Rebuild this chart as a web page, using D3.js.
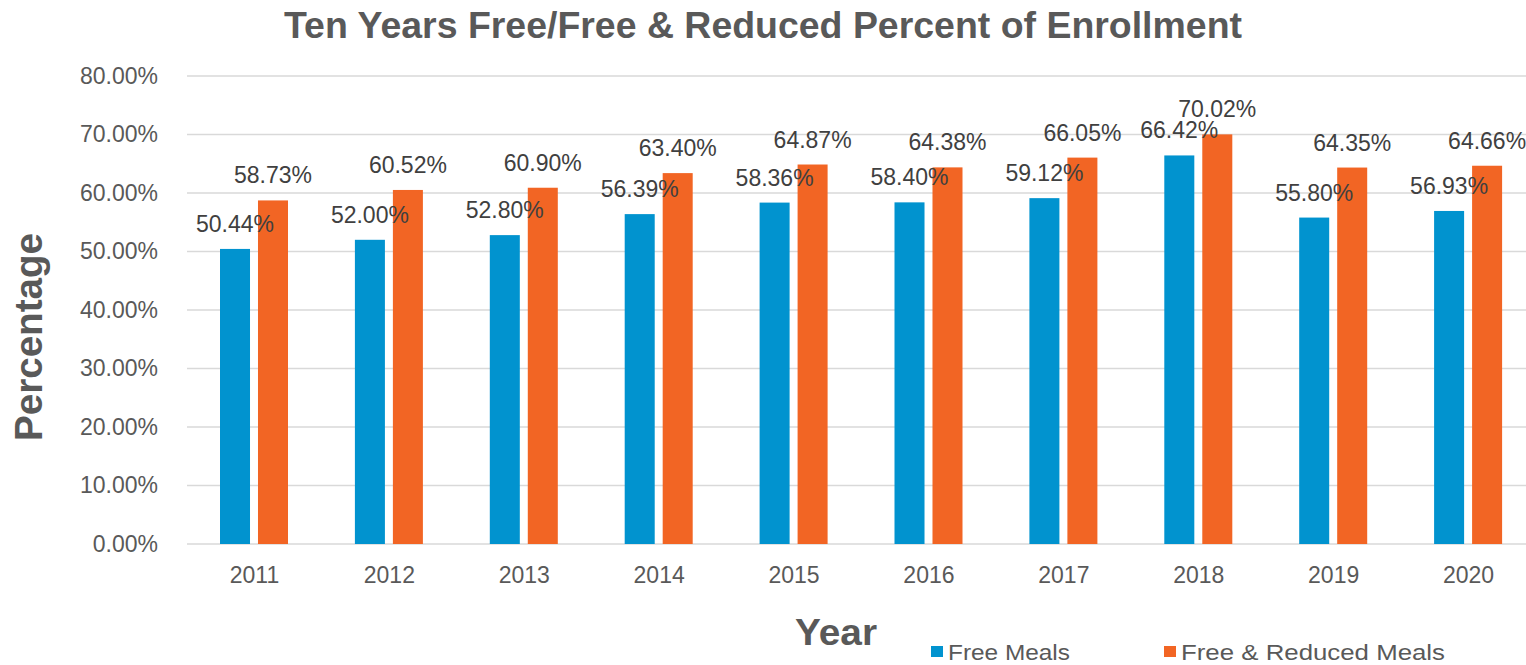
<!DOCTYPE html>
<html>
<head>
<meta charset="utf-8">
<script src="https://cdn.jsdelivr.net/npm/d3@7"></script>
<style>
  html, body { margin: 0; padding: 0; background: #fff; }
  svg { display: block; }
</style>
</head>
<body>
<svg id="chart" width="1526" height="665"></svg>
<script>
// Enrollment shares by school year
const years = ["2011", "2012", "2013", "2014", "2015", "2016", "2017", "2018", "2019", "2020"];
const freeMeals = [50.44, 52.00, 52.80, 56.39, 58.36, 58.40, 59.12, 66.42, 55.80, 56.93];
const freeReducedMeals = [58.73, 60.52, 60.90, 63.40, 64.87, 64.38, 66.05, 70.02, 64.35, 64.66];
const seriesNames = ["Free Meals", "Free & Reduced Meals"];
const yTicks = [0, 10, 20, 30, 40, 50, 60, 70, 80];

const colors = ["#0193CF", "#F26524"];
const font = "'Liberation Sans', Arial, sans-serif";

const svg = d3.select("#chart");
const plot = { left: 187, right: 1536, top: 76, bottom: 544 };

const x = d3.scaleBand().domain(years).range([plot.left, plot.right]).paddingInner(0).paddingOuter(0);
const sub = d3.scaleBand().domain(seriesNames).range([33, 101]).paddingInner(0.21);
const y = d3.scaleLinear().domain([0, 80]).range([plot.bottom, plot.top]);

// Gridlines
svg.append("g")
  .selectAll("line")
  .data(yTicks)
  .join("line")
  .attr("x1", plot.left).attr("x2", plot.right)
  .attr("y1", d => y(d)).attr("y2", d => y(d))
  .attr("stroke", "#d9d9d9").attr("stroke-width", 1.5);

// Y axis tick labels
const yAxis = d3.axisLeft(y).tickValues(yTicks).tickSize(0).tickPadding(29)
  .tickFormat(d => d.toFixed(2) + "%");
const gy = svg.append("g").attr("transform", `translate(${plot.left},0)`).call(yAxis);
gy.select(".domain").remove();
gy.selectAll("text").attr("font-family", font).attr("font-size", 23).attr("fill", "#595959");

// X axis tick labels
const xAxis = d3.axisBottom(x).tickSize(0).tickPadding(23);
const gx = svg.append("g").attr("transform", `translate(0,${plot.bottom})`).call(xAxis);
gx.select(".domain").remove();
gx.selectAll("text").attr("font-family", font).attr("font-size", 23).attr("fill", "#595959");

// Bars and value labels
const rows = years.map((yr, i) => ({ year: yr, values: [freeMeals[i], freeReducedMeals[i]] }));
const groups = svg.append("g").selectAll("g")
  .data(rows)
  .join("g")
  .attr("transform", d => `translate(${x(d.year)},0)`);

groups.selectAll("rect")
  .data(d => d.values.map((v, k) => ({ v, k })))
  .join("rect")
  .attr("x", d => sub(seriesNames[d.k]))
  .attr("width", sub.bandwidth())
  .attr("y", d => y(d.v))
  .attr("height", d => y(0) - y(d.v))
  .attr("fill", d => colors[d.k]);

groups.selectAll("text")
  .data(d => d.values.map((v, k) => ({ v, k })))
  .join("text")
  .attr("x", d => sub(seriesNames[d.k]) + sub.bandwidth() / 2)
  .attr("y", d => y(d.v) - 17)
  .attr("text-anchor", "middle")
  .attr("font-family", font).attr("font-size", 23).attr("fill", "#404040")
  .text(d => d.v.toFixed(2) + "%");

// Title
svg.append("text")
  .attr("x", 763).attr("y", 38)
  .attr("text-anchor", "middle")
  .attr("font-family", font).attr("font-weight", "bold").attr("font-size", 36)
  .attr("fill", "#595959")
  .attr("textLength", 958).attr("lengthAdjust", "spacingAndGlyphs")
  .text("Ten Years Free/Free & Reduced Percent of Enrollment");

// Axis titles
svg.append("text")
  .attr("transform", "translate(42,337) rotate(-90)")
  .attr("text-anchor", "middle")
  .attr("font-family", font).attr("font-weight", "bold").attr("font-size", 39)
  .attr("fill", "#595959")
  .attr("textLength", 208).attr("lengthAdjust", "spacingAndGlyphs")
  .text("Percentage");

svg.append("text")
  .attr("x", 836).attr("y", 645)
  .attr("text-anchor", "middle")
  .attr("font-family", font).attr("font-weight", "bold").attr("font-size", 37)
  .attr("fill", "#595959")
  .attr("textLength", 82).attr("lengthAdjust", "spacingAndGlyphs")
  .text("Year");

// Legend
const legendX = [931, 1164];
const legendTextLen = [122, 264];
const legend = svg.append("g").selectAll("g")
  .data(seriesNames)
  .join("g")
  .attr("transform", (d, i) => `translate(${legendX[i]},646)`);
legend.append("rect")
  .attr("width", 12).attr("height", 11)
  .attr("fill", (d, i) => colors[i]);
legend.append("text")
  .attr("x", 17).attr("y", 14)
  .attr("font-family", font).attr("font-size", 22).attr("fill", "#595959")
  .attr("textLength", (d, i) => legendTextLen[i]).attr("lengthAdjust", "spacingAndGlyphs")
  .text(d => d);
</script>
</body>
</html>
